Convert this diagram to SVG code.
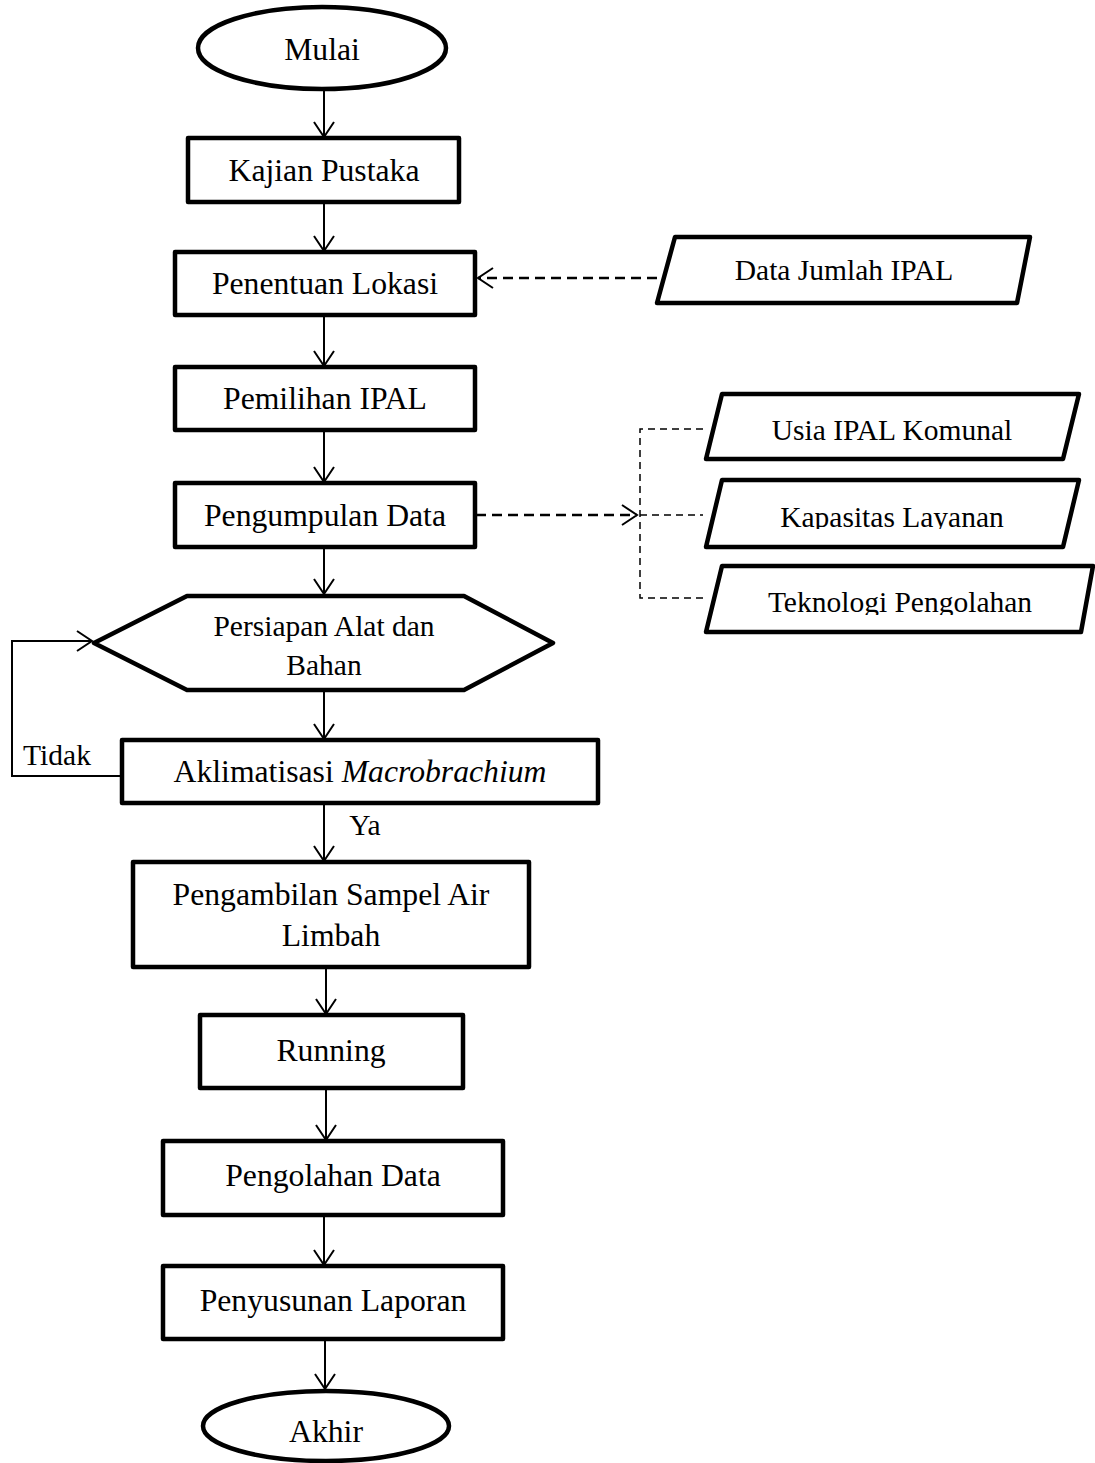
<svg xmlns="http://www.w3.org/2000/svg" width="1095" height="1463" viewBox="0 0 1095 1463">
<style>
.sh{fill:#fff;stroke:#000;stroke-width:4.5;stroke-linejoin:round}
.t{font-family:"Liberation Serif","Times New Roman",serif;font-size:31.7px;fill:#000;text-anchor:middle}
.s{font-family:"Liberation Serif","Times New Roman",serif;font-size:29.5px;fill:#000;text-anchor:middle}
.c{fill:none;stroke:#000;stroke-width:2}
.d{fill:none;stroke:#000;stroke-width:2.5;stroke-dasharray:10 6}
.b{fill:none;stroke:#000;stroke-width:1.5;stroke-dasharray:7 5}
</style>
<defs>
<marker id="ah" viewBox="-17 -12 19 24" refX="0" refY="0" markerWidth="19" markerHeight="24" markerUnits="userSpaceOnUse" orient="auto" overflow="visible">
<path d="M-15,-10 L0,0 L-15,10" fill="none" stroke="#000" stroke-width="2"/>
</marker>
<clipPath id="clipK"><rect x="700" y="470" width="390" height="59"/></clipPath>
<clipPath id="clipT"><rect x="700" y="560" width="395" height="55"/></clipPath>
</defs>
<g id="connectors">
<path class="c" d="M324,89 V137" marker-end="url(#ah)"/>
<path class="c" d="M324,202 V251" marker-end="url(#ah)"/>
<path class="c" d="M324,315 V366" marker-end="url(#ah)"/>
<path class="c" d="M324,430 V482" marker-end="url(#ah)"/>
<path class="c" d="M324,547 V594" marker-end="url(#ah)"/>
<path class="c" d="M324,688 V739" marker-end="url(#ah)"/>
<path class="c" d="M324,803 V861" marker-end="url(#ah)"/>
<path class="c" d="M326,967 V1014" marker-end="url(#ah)"/>
<path class="c" d="M326,1088 V1140" marker-end="url(#ah)"/>
<path class="c" d="M324,1215 V1265" marker-end="url(#ah)"/>
<path class="c" d="M325,1339 V1389" marker-end="url(#ah)"/>
<path class="c" d="M122,776 H12 V641 H92" marker-end="url(#ah)"/>
<path class="d" d="M657,278 H478" marker-end="url(#ah)"/>
<path class="d" d="M476,515 H637" marker-end="url(#ah)"/>
<path class="b" d="M703,429 H640 V598 H703 M640,515 H703"/>
<text class="s" x="57" y="765">Tidak</text>
<text class="s" x="365" y="835">Ya</text>
</g>
<g id="mulai">
<ellipse class="sh" cx="322" cy="48" rx="124" ry="41"/>
<text class="t" x="322" y="60">Mulai</text>
</g>
<g id="kajian">
<rect class="sh" x="188" y="138" width="271" height="64"/>
<text class="t" x="324" y="181">Kajian Pustaka</text>
</g>
<g id="penentuan">
<rect class="sh" x="175" y="252" width="300" height="63"/>
<text class="t" x="325" y="294">Penentuan Lokasi</text>
</g>
<g id="pemilihan">
<rect class="sh" x="175" y="367" width="300" height="63"/>
<text class="t" x="325" y="409">Pemilihan IPAL</text>
</g>
<g id="pengumpulan">
<rect class="sh" x="175" y="483" width="300" height="64"/>
<text class="t" x="325" y="526">Pengumpulan Data</text>
</g>
<g id="data-jumlah">
<polygon class="sh" points="675,237 1030,237 1017,303 657,303"/>
<text class="s" x="844" y="280">Data Jumlah IPAL</text>
</g>
<g id="usia">
<polygon class="sh" points="722,394 1079,394 1063,459 706,459"/>
<text class="s" x="892" y="440">Usia IPAL Komunal</text>
</g>
<g id="kapasitas">
<polygon class="sh" points="722,480 1079,480 1063,547 706,547"/>
<text class="s" x="892" y="527" clip-path="url(#clipK)">Kapasitas Layanan</text>
</g>
<g id="teknologi">
<polygon class="sh" points="722,566 1093,566 1081,632 706,632"/>
<text class="s" x="900" y="612" clip-path="url(#clipT)">Teknologi Pengolahan</text>
</g>
<g id="persiapan">
<polygon class="sh" points="94,643 187,596 464,596 553,643 464,690 187,690"/>
<text class="s" x="324" y="636">Persiapan Alat dan</text>
<text class="s" x="324" y="675">Bahan</text>
</g>
<g id="aklimatisasi">
<rect class="sh" x="122" y="740" width="476" height="63"/>
<text class="t" x="360" y="782">Aklimatisasi <tspan font-style="italic">Macrobrachium</tspan></text>
</g>
<g id="pengambilan">
<rect class="sh" x="133" y="862" width="396" height="105"/>
<text class="t" x="331" y="905">Pengambilan Sampel Air</text>
<text class="t" x="331" y="946">Limbah</text>
</g>
<g id="running">
<rect class="sh" x="200" y="1015" width="263" height="73"/>
<text class="t" x="331" y="1061">Running</text>
</g>
<g id="pengolahan">
<rect class="sh" x="163" y="1141" width="340" height="74"/>
<text class="t" x="333" y="1186">Pengolahan Data</text>
</g>
<g id="penyusunan">
<rect class="sh" x="163" y="1266" width="340" height="73"/>
<text class="t" x="333" y="1311">Penyusunan Laporan</text>
</g>
<g id="akhir">
<ellipse class="sh" cx="326" cy="1426" rx="123" ry="35"/>
<text class="t" x="326" y="1442">Akhir</text>
</g>
</svg>
